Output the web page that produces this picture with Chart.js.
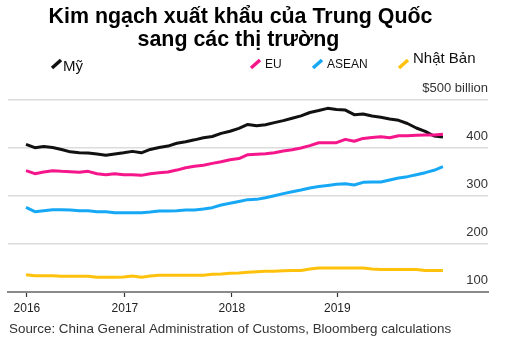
<!DOCTYPE html>
<html><head><meta charset="utf-8">
<script src="https://cdn.jsdelivr.net/npm/chart.js@4/dist/chart.umd.min.js"></script>
<style>html,body{margin:0;padding:0;background:#fff;} #wrap{width:513px;height:357px;position:relative;}</style>
</head><body><div id="wrap"><canvas id="c" width="513" height="357"></canvas></div>
<script>
const titleLines = ['Kim ngạch xuất khẩu của Trung Quốc', 'sang các thị trường'];
const seriesNames = ['Mỹ', 'EU', 'ASEAN', 'Nhật Bản'];
const sourceText = 'Source: China General Administration of Customs, Bloomberg calculations';
// month index, Jan 2016 = 0 ... Dec 2019 = 47
const monthIndex = [0,1,2,3,4,5,6,7,8,9,10,11,12,13,14,15,16,17,18,19,20,21,22,23,24,25,26,27,28,29,30,31,32,33,34,35,36,37,38,39,40,41,42,43,44,45,46,47];
const usa = [407.6,400.7,403,401,397,392,390,389.6,387.5,384.7,387.5,390,393,390,397,401,404,410,413,417,421.5,424,430.5,435,441,449,446.5,448.6,452.8,457,462,467,474,478,482.6,480,479,469.4,471,466.7,464,460.4,457.6,451,441.7,434.7,425,423];
const eu = [352.8,346.5,350,352.8,351.4,350.7,349.3,351.4,346.5,344.4,346.5,344.4,344.4,343,346.5,348.6,350,354,359,361.8,364,368,371.5,375.7,378,386,386.8,388,390,393.8,396.5,400,405,411,411,411,418,414,420,422,423.6,421.5,425.7,425.7,426.4,427,427,428.5];
const asean = [276.4,267.4,269.4,271.5,271.5,270.8,269.4,269.4,267.4,267.4,265.3,265.3,265.3,265.3,266.7,268.75,268.75,269.4,270.8,270.8,272.9,275.7,281.3,284.7,288.5,292.4,293,296.5,300.7,304.9,309,312.5,316.7,320,322,324.3,325.7,323,328.5,329,329,333.3,337.5,340.3,344.4,348.6,353.5,361];
const japan = [136,134,134,134,132.6,132.6,132.6,132.6,130.6,130.6,130.6,131.25,133.3,130.6,133.3,134.7,134.7,134.7,134.7,134.7,134.7,136.8,137.5,139,139.6,141,142.4,143,143,144.4,145,145,148,150,150,150,150,150,150,148,147,147,147,147,147,145,145,145];
const yearTickPositions = [0.1, 11.15, 23.2, 35.1];
const yearTickLabels = ['2016', '2017', '2018', '2019'];
const yTickValues = [100, 200, 300, 400, 500];
const yTickLabels = ['100', '200', '300', '400', '$500 billion'];

const colors = ['#111111', '#f5168c', '#17a8f5', '#fec20d'];
const FONT = '"Liberation Sans", Arial, sans-serif';

function pts(arr) { return arr.map((v, i) => ({x: monthIndex[i], y: v})); }

const overlay = {
  id: 'overlay',
  afterDraw(chart) {
    const ctx = chart.ctx;
    ctx.save();
    ctx.fillStyle = '#000';
    ctx.textAlign = 'center';
    ctx.textBaseline = 'alphabetic';
    ctx.font = 'bold 21.4px ' + FONT;
    ctx.fillText(titleLines[0], 240.5, 23);
    ctx.fillText(titleLines[1], 238.5, 46);
    // legend
    const items = [
      {mx: 51, tx: 63, base: 71, size: 15},
      {mx: 250, tx: 265, base: 68, size: 12},
      {mx: 312, tx: 327, base: 68, size: 12},
      {mx: 398, tx: 413, base: 63, size: 15}
    ];
    items.forEach((it, i) => {
      ctx.strokeStyle = colors[i];
      ctx.lineWidth = 3.5;
      ctx.lineCap = 'butt';
      ctx.beginPath();
      ctx.moveTo(it.mx + 1, 68);
      ctx.lineTo(it.mx + 10, 60);
      ctx.stroke();
      ctx.fillStyle = '#111';
      ctx.textAlign = 'left';
      ctx.font = it.size + 'px ' + FONT;
      ctx.fillText(seriesNames[i], it.tx, it.base);
    });
    ctx.fillStyle = '#333';
    ctx.font = '13.4px ' + FONT;
    ctx.fillText(sourceText, 9, 333);
    ctx.restore();
  }
};

new Chart(document.getElementById('c'), {
  type: 'line',
  data: {
    datasets: [
      {label: seriesNames[1], data: pts(eu), borderColor: colors[1], order: 0},
      {label: seriesNames[0], data: pts(usa), borderColor: colors[0], order: 1},
      {label: seriesNames[2], data: pts(asean), borderColor: colors[2], order: 2},
      {label: seriesNames[3], data: pts(japan), borderColor: colors[3], order: 3}
    ].map(d => Object.assign(d, {borderWidth: 3, pointRadius: 0, tension: 0, fill: false, borderJoinStyle: 'round'}))
  },
  options: {
    responsive: false,
    animation: false,
    devicePixelRatio: 1,
    layout: {padding: {top: 100, left: 8, right: 25, bottom: 37.6}},
    plugins: {legend: {display: false}, title: {display: false}, tooltip: {enabled: false}},
    scales: {
      x: {
        type: 'linear', min: -2.03, max: 52.08,
        afterBuildTicks: s => { s.ticks = yearTickPositions.map(v => ({value: v})); },
        ticks: {callback: (v, i) => yearTickLabels[i], autoSkip: false, maxRotation: 0, padding: 4,
          font: {family: FONT, size: 12}, color: '#222'},
        grid: {drawOnChartArea: false, drawTicks: true, tickLength: 5, tickColor: '#333', tickWidth: 1.2},
        border: {display: true, color: '#8a8a8a', width: 2}
      },
      y: {
        type: 'linear', position: 'right', min: 100, max: 500,
        afterBuildTicks: s => { s.ticks = yTickValues.map(v => ({value: v})); },
        ticks: {mirror: true, padding: 0, labelOffset: -12, callback: (v, i) => yTickLabels[i],
          font: {family: FONT, size: 13}, color: '#333'},
        grid: {color: '#dcdcdc', lineWidth: 1.5, drawTicks: false},
        border: {display: false}
      }
    }
  },
  plugins: [overlay]
});
</script></body></html>
